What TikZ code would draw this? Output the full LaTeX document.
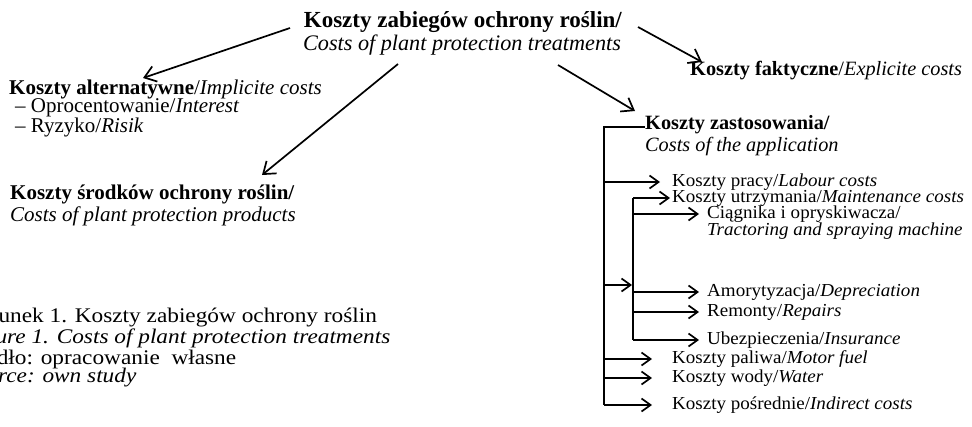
\documentclass[tikz,border=0pt]{standalone}
\usepackage{fontspec}
\setmainfont{Liberation Serif}
\newfontfamily\capfont{Liberation Serif}[FakeStretch=1.12]
\newfontfamily\rfont{Liberation Serif}[FakeStretch=1.04]
\usetikzlibrary{arrows.meta}
\begin{document}
\begin{tikzpicture}[x=1pt,y=-1pt,
  txt/.style={inner sep=0pt,anchor=west,font=\fontsize{21}{22}\selectfont},
  rtxt/.style={inner sep=0pt,anchor=west,font=\rfont\fontsize{18.3}{20}\selectfont},
  mtxt/.style={inner sep=0pt,anchor=west,font=\fontsize{20.3}{22}\selectfont},
  ctxt/.style={inner sep=0pt,anchor=west,font=\capfont\fontsize{20.8}{22}\selectfont},
  ttla/.style={inner sep=0pt,font=\fontsize{23}{24}\selectfont},
  ttlb/.style={inner sep=0pt,font=\fontsize{22.2}{24}\selectfont},
  conn/.style={line width=1.7pt,-{Straight Barb[length=11pt,width=16pt,line width=1.7pt]}},
  bar/.style={line width=1.7pt},
  arr/.style={line width=1.7pt,-{Straight Barb[length=9pt,width=13pt,line width=1.7pt]}}]
\useasboundingbox (0,0) rectangle (972,426);
\clip (0,0) rectangle (972,426);
% title
\node[ttla] (t1) at (463,22) {\textbf{Koszty zabiegów ochrony roślin/}};
\node[ttlb] (t2) at (462,45) {\textit{Costs of plant protection treatments}};
% left
\node[txt] (alt) at (9,89) {\textbf{Koszty alternatywne}/\textit{Implicite costs}};
\node[txt] (int) at (15,108) {–\ Oprocentowanie/\textit{Interest}};
\node[txt] (ris) at (15,127) {–\ Ryzyko/\textit{Risik}};
\node[txt] (sr1) at (10,194) {\textbf{Koszty środków ochrony roślin/}};
\node[txt] (sr2) at (10,216) {\textit{Costs of plant protection products}};
% right
\node[mtxt] (fak) at (690,71) {\textbf{Koszty faktyczne}/\textit{Explicite costs}};
\node[mtxt] (za1) at (645,125) {\textbf{Koszty zastosowania/}};
\node[mtxt] (za2) at (645,147) {\textit{Costs of the application}};
\node[rtxt] (lab) at (672,182) {Koszty pracy/\textit{Labour costs}};
\node[rtxt] (mai) at (672,198) {Koszty utrzymania/\textit{Maintenance costs}};
\node[rtxt] (cia) at (707,214) {Ciągnika i opryskiwacza/};
\node[rtxt] (tra) at (707,231) {\textit{Tractoring and spraying machine}};
\node[rtxt] (amo) at (707,292) {Amorytyzacja/\textit{Depreciation}};
\node[rtxt] (rem) at (707,312) {Remonty/\textit{Repairs}};
\node[rtxt] (ube) at (707,340) {Ubezpieczenia/\textit{Insurance}};
\node[rtxt] (pal) at (672,359) {Koszty paliwa/\textit{Motor fuel}};
\node[rtxt] (wod) at (672,378) {Koszty wody/\textit{Water}};
\node[rtxt] (pos) at (672,405) {Koszty pośrednie/\textit{Indirect costs}};
% caption
\node[ctxt] (c1) at (-37,318) {Rysunek 1. Koszty zabiegów ochrony roślin};
\node[ctxt] (c2) at (-37,338) {\textit{Figure 1. Costs of plant protection treatments}};
\node[ctxt] (c3) at (-37,358) {Źródło: opracowanie\ \ własne};
\node[ctxt] (c4) at (-37,378) {\textit{Source: own study}};
% top arrows
\coordinate (a1s) at (290,28); \coordinate (a1e) at (143,78);
\coordinate (a2s) at (398,64); \coordinate (a2e) at (262,175);
\coordinate (a3s) at (638,27); \coordinate (a3e) at (702,62);
\coordinate (a4s) at (558,65); \coordinate (a4e) at (635,111);
\draw[conn] (a1s) -- (a1e);
\draw[conn] (a2s) -- (a2e);
\draw[conn] (a3s) -- (a3e);
\draw[conn] (a4s) -- (a4e);
% bracket
\coordinate (mtop) at (645,127);
\coordinate (mx) at (604,127);
\coordinate (sx) at (633,198);
\draw[bar] (mtop) -- (mx) -- (604,405);
\draw[arr] (604,182) -- (660,182);
\draw[arr] (604,285) -- (632,285);
\draw[arr] (604,359) -- (652,359);
\draw[arr] (604,378) -- (652,378);
\draw[arr] (604,405) -- (652,405);
\draw[bar] (sx) -- (633,340);
\draw[arr] (sx) -- (670,198);
\draw[arr] (633,214) -- (699,214);
\draw[arr] (633,292) -- (699,292);
\draw[arr] (633,312) -- (699,312);
\draw[arr] (633,340) -- (699,340);
\end{tikzpicture}
\end{document}
